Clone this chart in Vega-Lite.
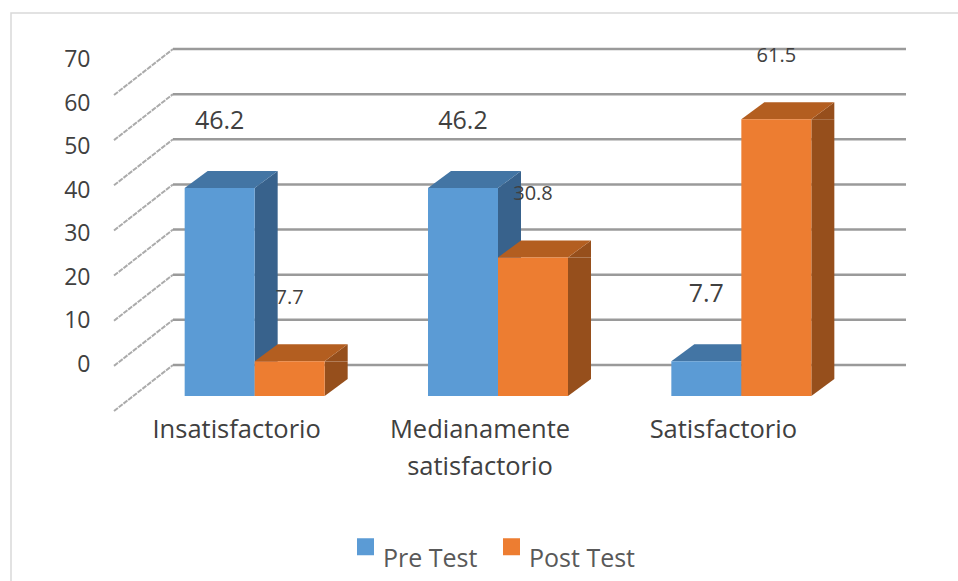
{
"$schema":"https://vega.github.io/schema/vega-lite/v6.json",
"width":949,"height":570,
"autosize":{"type":"none"},
"padding":{"left":11,"top":13,"right":-2,"bottom":-2},
"background":"white",
"config":{"view":{"stroke":"#d9d9d9","strokeWidth":1.5},"font":"Open Sans"},
"datasets":{
"bars":[
{"categoria":"Insatisfactorio","serie":"Pre Test","valor":46.2},
{"categoria":"Insatisfactorio","serie":"Post Test","valor":7.7},
{"categoria":"Medianamente satisfactorio","serie":"Pre Test","valor":46.2},
{"categoria":"Medianamente satisfactorio","serie":"Post Test","valor":30.8},
{"categoria":"Satisfactorio","serie":"Pre Test","valor":7.7},
{"categoria":"Satisfactorio","serie":"Post Test","valor":61.5}
],
"ticks":[{"t":0},{"t":10},{"t":20},{"t":30},{"t":40},{"t":50},{"t":60},{"t":70}]
},
"layer":[
{"data":{"name":"ticks"},
"mark":{"type":"point","shape":"M-38.4 4.6L-32.5 0","size":400,"filled":false,"stroke":"#ababab","strokeWidth":2,"strokeDash":[5,1],"opacity":1},
"encoding":{"x":{"datum":"Medianamente satisfactorio","type":"nominal","axis":null,"scale":{"domain":["Insatisfactorio","Medianamente satisfactorio","Satisfactorio"],"range":[122,852],"paddingInner":0,"paddingOuter":0}},
"y":{"field":"t","type":"quantitative","axis":null,"scale":{"domain":[0,70],"range":[352,36],"nice":false}}}},
{"data":{"name":"ticks"},
"mark":{"type":"point","shape":"M-32.5 0L40.8 0","size":400,"filled":false,"stroke":"#9a9a9a","strokeWidth":2.5,"opacity":1},
"encoding":{"x":{"datum":"Medianamente satisfactorio","type":"nominal","axis":null},
"y":{"field":"t","type":"quantitative","axis":null,"scale":{"domain":[0,70],"range":[352,36],"nice":false}}}},
{"data":{"name":"ticks"},
"mark":{"type":"point","size":1,"opacity":0},
"encoding":{"y":{"field":"t","type":"quantitative","title":null,"scale":{"domain":[0,70],"range":[351.5,46.5],"nice":false},
"axis":{"values":[0,10,20,30,40,50,60,70],"domain":false,"ticks":false,"grid":false,"offset":-81,"labelPadding":2,"labelFontSize":23,"labelColor":"#404040","labelFont":"Open Sans"}}}},
{"data":{"name":"bars"},
"mark":{"type":"bar","width":23,"y2Offset":-17},
"encoding":{"x":{"field":"categoria","type":"nominal","axis":null},
"xOffset":{"field":"serie","type":"nominal","scale":{"type":"point","domain":["Pre Test","Post Test"],"range":[133.17,203.17],"padding":0}},
"y":{"field":"valor","type":"quantitative","axis":null,"scale":{"domain":[0,70],"range":[383,68],"nice":false}},
"y2":{"datum":0},
"color":{"field":"serie","type":"nominal","legend":null,"scale":{"domain":["Pre Test","Post Test"],"range":["#38628C","#964F1C"]}}}},
{"data":{"name":"bars"},
"mark":{"type":"point","shape":"M3.5 0L5.8 -1.7L5.8 0Z","size":400,"filled":true,"opacity":1},
"encoding":{"x":{"field":"categoria","type":"nominal","axis":null},
"xOffset":{"field":"serie","type":"nominal","scale":{"type":"point","domain":["Pre Test","Post Test"],"range":[86.67,156.67],"padding":0}},
"y":{"field":"valor","type":"quantitative","axis":null,"scale":{"domain":[0,70],"range":[383,68],"nice":false}},
"color":{"field":"serie","type":"nominal","legend":null,"scale":{"domain":["Pre Test","Post Test"],"range":["#38628C","#964F1C"]}}}},
{"data":{"name":"bars"},
"mark":{"type":"point","shape":"M3.5 0L5.8 -1.7L3.5 -1.7Z","size":400,"filled":true,"opacity":1},
"encoding":{"x":{"field":"categoria","type":"nominal","axis":null},
"xOffset":{"field":"serie","type":"nominal","scale":{"type":"point","domain":["Pre Test","Post Test"],"range":[86.67,156.67],"padding":0}},
"y":{"datum":0,"type":"quantitative","axis":null,"scale":{"domain":[0,70],"range":[383,68],"nice":false}},
"color":{"field":"serie","type":"nominal","legend":null,"scale":{"domain":["Pre Test","Post Test"],"range":["#38628C","#964F1C"]}}}},
{"data":{"name":"bars"},
"mark":{"type":"point","shape":"M-3.5 0L3.5 0L5.8 -1.7L-1.2 -1.7Z","size":400,"filled":true,"opacity":1},
"encoding":{"x":{"field":"categoria","type":"nominal","axis":null},
"xOffset":{"field":"serie","type":"nominal","scale":{"type":"point","domain":["Pre Test","Post Test"],"range":[86.67,156.67],"padding":0}},
"y":{"field":"valor","type":"quantitative","axis":null,"scale":{"domain":[0,70],"range":[383,68],"nice":false}},
"color":{"field":"serie","type":"nominal","legend":null,"scale":{"domain":["Pre Test","Post Test"],"range":["#4375A4","#B35E20"]}}}},
{"data":{"name":"bars"},
"mark":{"type":"bar","width":70},
"encoding":{"x":{"field":"categoria","type":"nominal","title":null,
"axis":{"domain":false,"ticks":false,"grid":false,"offset":-187,"labelAngle":0,"labelOffset":-18,"labelPadding":21,"labelFontSize":25.5,"labelColor":"#404040","labelFont":"Open Sans","labelLineHeight":37,"labelLimit":300,"labelExpr":"datum.value=='Medianamente satisfactorio'?['Medianamente','satisfactorio']:datum.label"}},
"xOffset":{"field":"serie","type":"nominal","scale":{"type":"point","domain":["Pre Test","Post Test"],"range":[86.67,156.67],"padding":0}},
"y":{"field":"valor","type":"quantitative","axis":null,"scale":{"domain":[0,70],"range":[383,68],"nice":false}},
"y2":{"datum":0},
"color":{"field":"serie","type":"nominal","title":null,"scale":{"domain":["Pre Test","Post Test"],"range":["#5B9BD5","#ED7D31"]},
"legend":{"orient":"none","legendX":342,"legendY":521,"direction":"horizontal","columns":2,"symbolType":"square","symbolSize":289,"symbolStrokeWidth":0,"labelFontSize":25,"labelColor":"#595959","labelFont":"Open Sans","labelOffset":5,"columnPadding":21,"labelBaseline":"top"}}}},
{"data":{"name":"bars"},
"transform":[{"filter":"datum.serie=='Pre Test'"}],
"mark":{"type":"text","fontSize":25,"color":"#404040","yOffset":-67,"font":"Open Sans"},
"encoding":{"x":{"field":"categoria","type":"nominal","axis":null},
"xOffset":{"field":"serie","type":"nominal","scale":{"type":"point","domain":["Pre Test","Post Test"],"range":[86.67,156.67],"padding":0}},
"y":{"field":"valor","type":"quantitative","axis":null,"scale":{"domain":[0,70],"range":[383,68],"nice":false}},
"text":{"field":"valor","type":"quantitative","format":".1f"}}},
{"data":{"name":"bars"},
"transform":[{"filter":"datum.serie=='Post Test'"}],
"mark":{"type":"text","fontSize":20,"color":"#404040","yOffset":-63,"font":"Open Sans"},
"encoding":{"x":{"field":"categoria","type":"nominal","axis":null},
"xOffset":{"field":"serie","type":"nominal","scale":{"type":"point","domain":["Pre Test","Post Test"],"range":[86.67,156.67],"padding":0}},
"y":{"field":"valor","type":"quantitative","axis":null,"scale":{"domain":[0,70],"range":[383,68],"nice":false}},
"text":{"field":"valor","type":"quantitative","format":".1f"}}}
],
"resolve":{"scale":{"y":"independent","color":"independent","xOffset":"independent"},"axis":{"y":"independent","x":"independent"}}
}
